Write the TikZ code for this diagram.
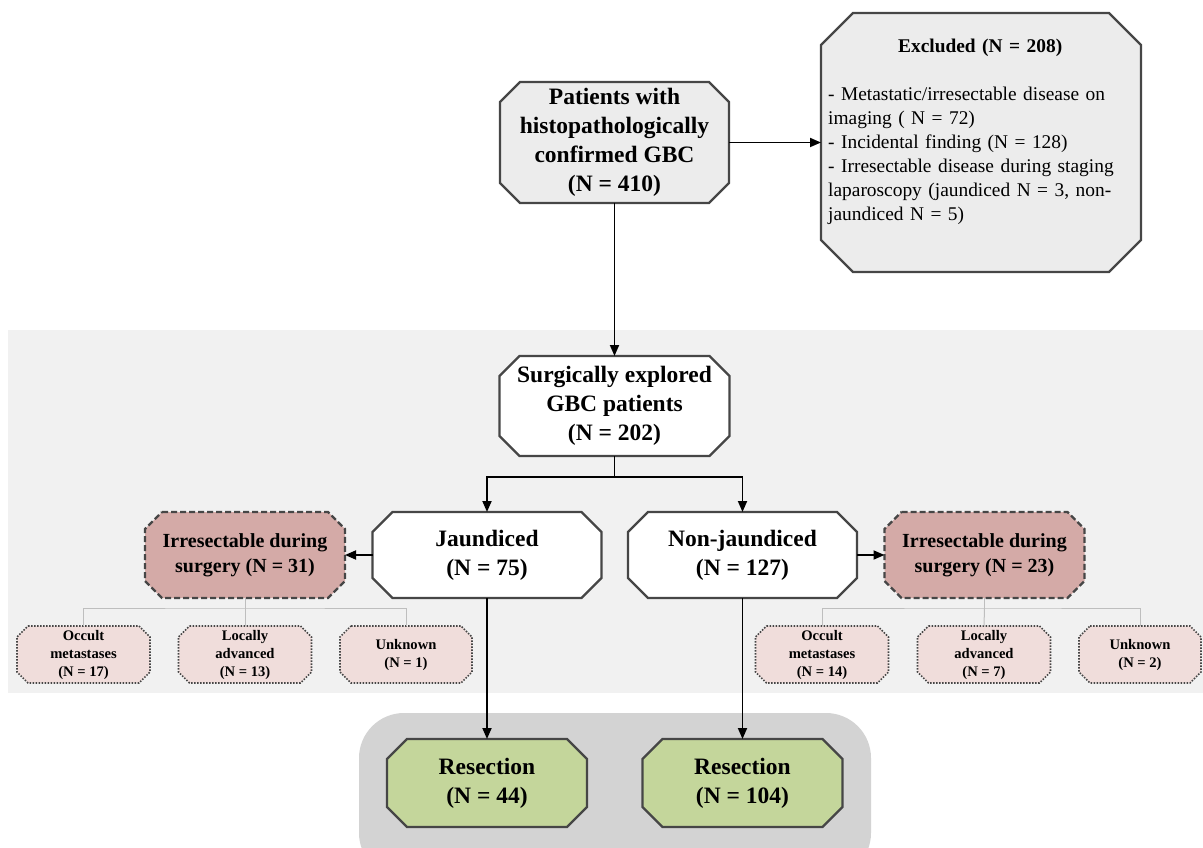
\documentclass[tikz,border=0pt]{standalone}
\usepackage{fontspec}
\setmainfont{Liberation Serif}
\usetikzlibrary{arrows.meta}
\definecolor{boxgray}{RGB}{236,236,236}
\definecolor{bandgray}{RGB}{241,241,241}
\definecolor{bottomgray}{RGB}{211,211,211}
\definecolor{rose}{RGB}{212,170,167}
\definecolor{lightrose}{RGB}{240,221,219}
\definecolor{resgreen}{RGB}{196,214,155}
\definecolor{edge}{RGB}{70,70,70}
\definecolor{subline}{RGB}{190,190,190}
\pgfdeclarelayer{bg}
\pgfdeclarelayer{shapes}
\pgfsetlayers{bg,shapes,main}
\newcommand\fmain{\fontsize{23.5}{29}\selectfont\bfseries}
\newcommand\firr{\fontsize{20}{25}\selectfont\bfseries}
\newcommand\fsub{\fontsize{14.6}{18}\selectfont\bfseries}
\newcommand\fexc{\fontsize{19.4}{24}\selectfont}
\newcommand\octo[3]{\begin{pgfonlayer}{shapes}\path[#3] ([xshift=#2]#1.north west) -- ([xshift=-#2]#1.north east) -- ([yshift=-#2]#1.north east) -- ([yshift=#2]#1.south east) -- ([xshift=-#2]#1.south east) -- ([xshift=#2]#1.south west) -- ([yshift=#2]#1.south west) -- ([yshift=-#2]#1.north west) -- cycle;\end{pgfonlayer}}
\begin{document}
\begin{tikzpicture}[x=1pt,y=-1pt,
  bx/.style={rectangle,inner sep=0pt,outer sep=0pt,align=center},
  conn/.style={line width=1.8pt,black},
  arr/.style={conn,-{Triangle[length=11pt,width=9pt]}},
  subconn/.style={line width=1pt,subline},
  solidoct/.style={draw=edge,line width=2.2pt,line join=miter},
  dashoct/.style={draw=edge,line width=2.2pt,dash pattern=on 6pt off 3pt,fill=rose},
  dotoct/.style={draw=edge,line width=1.6pt,dash pattern=on 1.5pt off 1.5pt,fill=lightrose},
  mainbox/.style={bx,minimum width=229pt,minimum height=86pt,font=\fmain},
  irrbox/.style={bx,minimum width=200pt,minimum height=86pt,font=\firr},
  subbox/.style={bx,minimum width=133pt,minimum height=57pt,font=\fsub},
  resbox/.style={bx,minimum width=200pt,minimum height=88pt,font=\fmain}]
\useasboundingbox (0,0) rectangle (1203,848);
\begin{pgfonlayer}{bg}
\fill[bandgray] (8,330) rectangle (1203,693);
\begin{scope}
\clip (0,0) rectangle (1203,848);
\fill[bottomgray,rounded corners=45pt] (359,713) rectangle (871,878);
\end{scope}
\end{pgfonlayer}

% top
\node[bx,minimum width=229pt,minimum height=121pt,font=\fmain] (pat) at (614.5,142.5) {Patients with\\histopathologically\\confirmed GBC\\(N = 410)};
\octo{pat}{20pt}{solidoct,fill=boxgray}

\node[bx,minimum width=320pt,minimum height=259pt] (exc) at (981,142.5) {};
\octo{exc}{32pt}{solidoct,fill=boxgray}
\node[anchor=north west,inner sep=0pt,text width=304pt,align=left,font=\fexc] (exctext) at (828,39) {{\centering\bfseries Excluded (N = 208)\par}\mbox{}\\- Metastatic/irresectable disease on\\imaging ( N = 72)\\- Incidental finding (N = 128)\\- Irresectable disease during staging\\laparoscopy (jaundiced N = 3, non-\\jaundiced N = 5)};

% middle
\node[bx,minimum width=230pt,minimum height=100pt,font=\fmain] (surg) at (614.5,406) {Surgically explored\\GBC patients\\(N = 202)};
\octo{surg}{20pt}{solidoct,fill=white}

\node[mainbox] (jaun) at (487,555) {Jaundiced\\(N = 75)};
\octo{jaun}{20pt}{solidoct,fill=white}
\node[mainbox] (nonj) at (742.5,555) {Non-jaundiced\\(N = 127)};
\octo{nonj}{20pt}{solidoct,fill=white}

\node[irrbox] (irrL) at (245,555) {Irresectable during\\surgery (N = 31)};
\octo{irrL}{17pt}{dashoct}
\node[irrbox] (irrR) at (984.5,555) {Irresectable during\\surgery (N = 23)};
\octo{irrR}{17pt}{dashoct}

\node[subbox] (occL) at (83.5,654.5) {Occult\\metastases\\(N = 17)};
\octo{occL}{11pt}{dotoct}
\node[subbox] (locL) at (245,654.5) {Locally\\advanced\\(N = 13)};
\octo{locL}{11pt}{dotoct}
\node[subbox,minimum width=132pt] (unkL) at (406,654.5) {Unknown\\(N = 1)};
\octo{unkL}{11pt}{dotoct}

\node[subbox] (occR) at (822,654.5) {Occult\\metastases\\(N = 14)};
\octo{occR}{11pt}{dotoct}
\node[subbox] (locR) at (984,654.5) {Locally\\advanced\\(N = 7)};
\octo{locR}{11pt}{dotoct}
\node[subbox,minimum width=122pt] (unkR) at (1140,654.5) {Unknown\\(N = 2)};
\octo{unkR}{11pt}{dotoct}

% bottom
\node[resbox] (resL) at (487,783) {Resection\\(N = 44)};
\octo{resL}{20pt}{solidoct,fill=resgreen}
\node[resbox] (resR) at (742.5,783) {Resection\\(N = 104)};
\octo{resR}{20pt}{solidoct,fill=resgreen}

% connectors
\draw[arr] (pat.east) -- (exc.west);
\draw[arr] (pat.south) -- (surg.north);
\coordinate (split) at (614.5,477);
\draw[conn] (surg.south) -- (split);
\draw[arr] (split) -| (jaun.north);
\draw[arr] (split) -| (nonj.north);
\draw[arr] (jaun.west) -- (irrL.east);
\draw[arr] (nonj.east) -- (irrR.west);
\draw[arr] (jaun.south) -- (resL.north);
\draw[arr] (nonj.south) -- (resR.north);

\coordinate (bl) at (245,608);
\draw[subconn] (irrL.south) -- (bl);
\draw[subconn] (occL.north) |- (bl) -| (unkL.north);
\draw[subconn] (bl) -- (locL.north);
\coordinate (br) at (984.5,608);
\draw[subconn] (irrR.south) -- (br);
\draw[subconn] (occR.north) |- (br) -| (unkR.north);
\draw[subconn] (br) -- (locR.north);
\end{tikzpicture}
\end{document}
